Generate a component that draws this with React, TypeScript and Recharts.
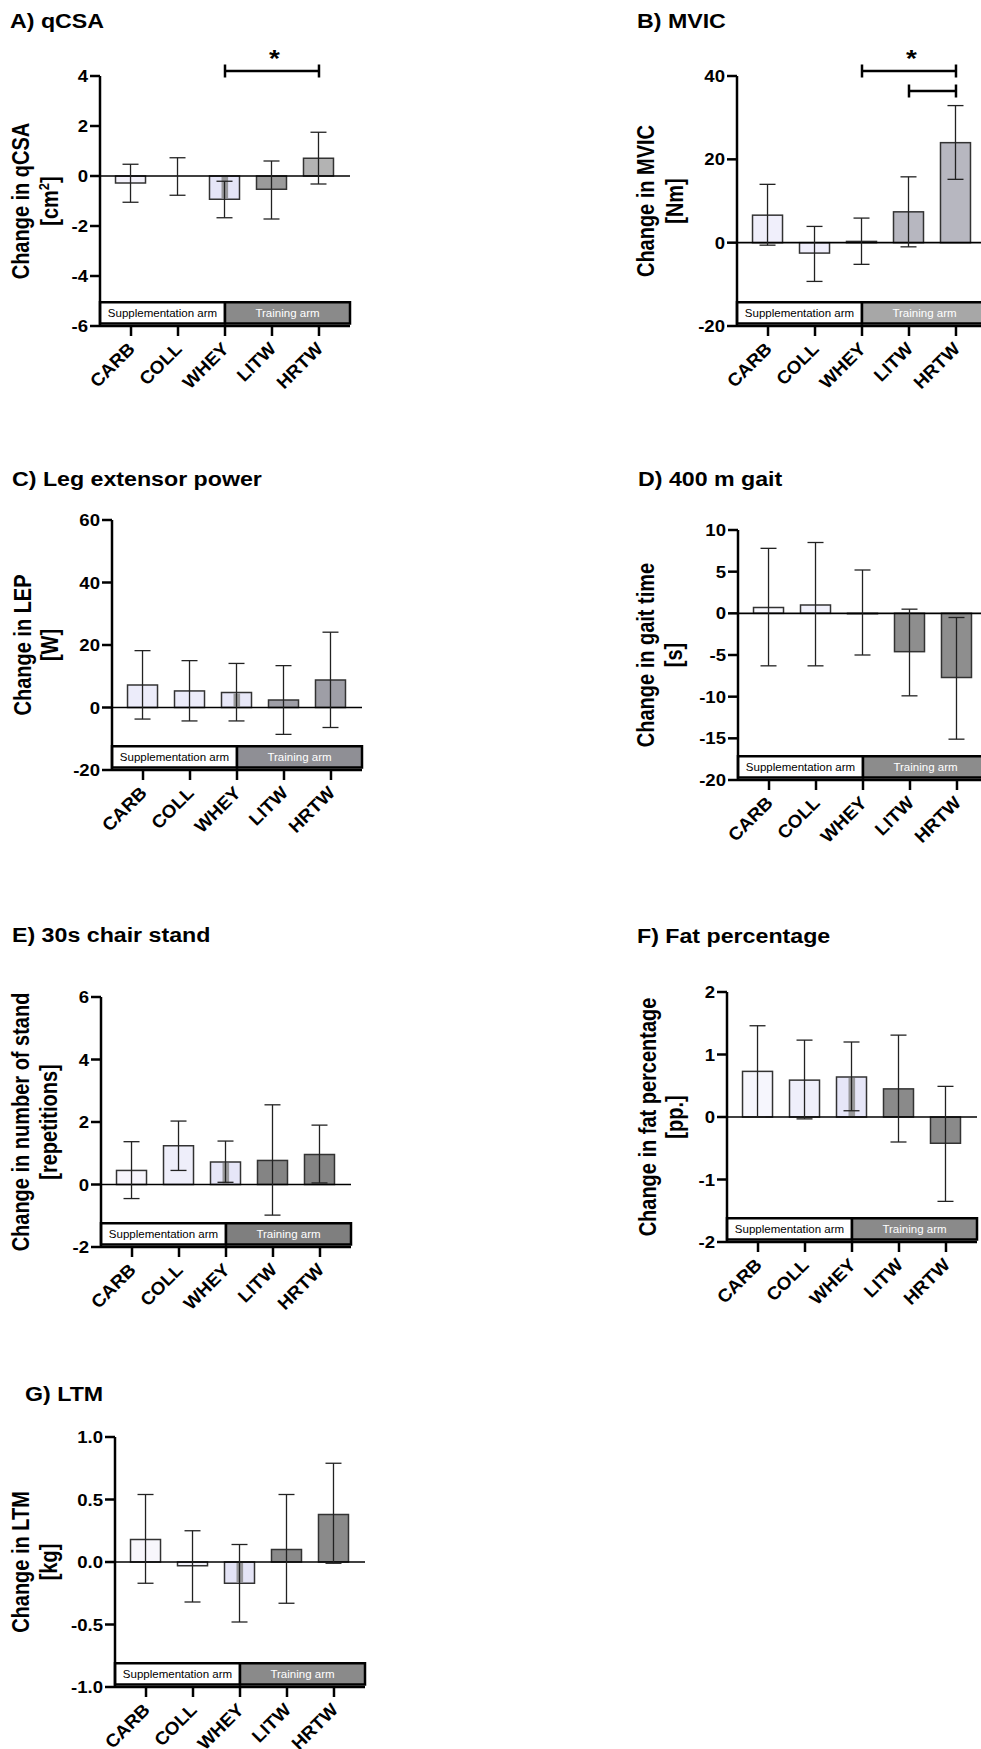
import React from 'react';
import { BarChart, Bar, XAxis, YAxis, ErrorBar, ReferenceLine, ReferenceArea, ReferenceDot } from 'recharts';

// ---------- data ----------
const categories = ['CARB', 'COLL', 'WHEY', 'LITW', 'HRTW'];

const qcsaMean = [-0.28, 0.0, -0.93, -0.53, 0.71];
const qcsaLower = [-1.05, -0.77, -1.67, -1.72, -0.32];
const qcsaUpper = [0.47, 0.73, -0.21, 0.6, 1.75];
const qcsaTicks = [-6, -4, -2, 0, 2, 4];

const mvicMean = [6.6, -2.5, 0.3, 7.4, 24.0];
const mvicLower = [-0.6, -9.3, -5.2, -1.0, 15.2];
const mvicUpper = [14.0, 3.9, 5.9, 15.8, 32.9];
const mvicTicks = [-20, 0, 20, 40];

const lepMean = [7.2, 5.3, 4.8, 2.4, 8.8];
const lepLower = [-3.7, -4.3, -4.3, -8.6, -6.4];
const lepUpper = [18.2, 15.0, 14.1, 13.4, 24.1];
const lepTicks = [-20, 0, 20, 40, 60];

const gaitMean = [0.7, 1.0, -0.05, -4.6, -7.7];
const gaitLower = [-6.3, -6.3, -5.0, -9.9, -15.1];
const gaitUpper = [7.8, 8.5, 5.2, 0.5, -0.5];
const gaitTicks = [-20, -15, -10, -5, 0, 5, 10];

const chairMean = [0.45, 1.24, 0.72, 0.77, 0.96];
const chairLower = [-0.45, 0.45, 0.07, -0.98, 0.05];
const chairUpper = [1.37, 2.03, 1.39, 2.55, 1.9];
const chairTicks = [-2, 0, 2, 4, 6];

const fatMean = [0.73, 0.59, 0.64, 0.45, -0.42];
const fatLower = [0.0, -0.03, 0.1, -0.4, -1.35];
const fatUpper = [1.46, 1.23, 1.2, 1.31, 0.49];
const fatTicks = [-2, -1, 0, 1, 2];

const ltmMean = [0.18, -0.03, -0.17, 0.1, 0.38];
const ltmLower = [-0.17, -0.32, -0.48, -0.33, -0.01];
const ltmUpper = [0.54, 0.25, 0.14, 0.54, 0.79];
const ltmTicks = [-1, -0.5, 0, 0.5, 1];

// significance brackets: category positions (1-based) and bracket level
const qcsaBrackets = [{ from: 3, to: 5, y: 4.2 }];
const qcsaStar = { x: 4.05, y: 4.84 };
const mvicBrackets = [
  { from: 3, to: 5, y: 41.2 },
  { from: 4, to: 5, y: 36.4 },
];
const mvicStar = { x: 4.05, y: 45.1 };

const armLabels = ['Supplementation arm', 'Training arm'];

// ---------- styles ----------
const FONT = '"Liberation Sans", Arial, Helvetica, sans-serif';
const SX = 1.16;
const X_DOMAIN: [number, number] = [0.34, 5.66];
const PLOT = 250;

type Cfg = {
  key: string;
  left: number;
  top: number;
  mean: number[];
  lower: number[];
  upper: number[];
  ticks: number[];
  dec: number;
  colors: string[];
  trainFill: string;
  stripe: boolean;
  brackets?: { from: number; to: number; y: number }[];
  star?: { x: number; y: number };
};

const panels: Cfg[] = [
  { key: 'A', left: 0, top: 16, mean: qcsaMean, lower: qcsaLower, upper: qcsaUpper, ticks: qcsaTicks, dec: 0,
    colors: ['#f3f1fa', '#f3f1fa', '#e5e5f7', '#9b9b9b', '#b3b3b3'], trainFill: '#8a8a8a', stripe: true,
    brackets: qcsaBrackets, star: qcsaStar },
  { key: 'B', left: 637, top: 16, mean: mvicMean, lower: mvicLower, upper: mvicUpper, ticks: mvicTicks, dec: 0,
    colors: ['#f0effb', '#efeefb', '#f0effb', '#b7b7c0', '#b7b7c0'], trainFill: '#a7a7a7', stripe: false,
    brackets: mvicBrackets, star: mvicStar },
  { key: 'C', left: 12, top: 460, mean: lepMean, lower: lepLower, upper: lepUpper, ticks: lepTicks, dec: 0,
    colors: ['#ececfa', '#ececfa', '#e8e8f8', '#9e9ea6', '#9e9ea6'], trainFill: '#8f8f95', stripe: true },
  { key: 'D', left: 638, top: 470, mean: gaitMean, lower: gaitLower, upper: gaitUpper, ticks: gaitTicks, dec: 0,
    colors: ['#fafaff', '#f1f1fb', '#f1f1fb', '#8e8e8e', '#8e8e8e'], trainFill: '#8c8c8c', stripe: false },
  { key: 'E', left: 1, top: 937, mean: chairMean, lower: chairLower, upper: chairUpper, ticks: chairTicks, dec: 0,
    colors: ['#f7f5fc', '#eeeefa', '#e6e6f8', '#848484', '#848484'], trainFill: '#7f7f7f', stripe: true },
  { key: 'F', left: 627, top: 932, mean: fatMean, lower: fatLower, upper: fatUpper, ticks: fatTicks, dec: 0,
    colors: ['#f6f6fd', '#efeffb', '#e6e6f8', '#8a8a8a', '#8a8a8a'], trainFill: '#8a8a8a', stripe: true },
  { key: 'G', left: 15, top: 1377, mean: ltmMean, lower: ltmLower, upper: ltmUpper, ticks: ltmTicks, dec: 1,
    colors: ['#f8f6fc', '#f1f1fa', '#e4e4f6', '#8a8a8a', '#8a8a8a'], trainFill: '#8a8a8a', stripe: true },
];

const titles = [
  { text: 'A) qCSA', x: 10, y: 27.5 },
  { text: 'B) MVIC', x: 637, y: 27.5 },
  { text: 'C) Leg extensor power', x: 12, y: 486 },
  { text: 'D) 400 m gait', x: 638, y: 486 },
  { text: 'E) 30s chair stand', x: 12, y: 942 },
  { text: 'F) Fat percentage', x: 637, y: 943 },
  { text: 'G) LTM', x: 25, y: 1401 },
];

const yLabels = [
  { l1: 'Change in qCSA', l2: '[cm', sup: '2', l2end: ']', x1: 29, x2: 58, cy: 201 },
  { l1: 'Change in MVIC', l2: '[Nm]', x1: 654, x2: 683, cy: 201 },
  { l1: 'Change in LEP', l2: '[W]', x1: 31, x2: 58, cy: 645 },
  { l1: 'Change in gait time', l2: '[s]', x1: 654, x2: 682, cy: 655 },
  { l1: 'Change in number of stand', l2: '[repetitions]', x1: 29, x2: 57, cy: 1122 },
  { l1: 'Change in fat percentage', l2: '[pp.]', x1: 656, x2: 683, cy: 1117 },
  { l1: 'Change in LTM', l2: '[kg]', x1: 29, x2: 57, cy: 1562 },
];

function buildTable(mean: number[], lower: number[], upper: number[]) {
  return categories.map((cat, i) => ({
    pos: i + 1,
    cat,
    mean: mean[i],
    err: [mean[i] - lower[i], upper[i] - mean[i]],
  }));
}

const XTick = (props: any) => {
  const { x, y, payload } = props;
  const label = categories[Math.round(payload.value) - 1];
  return (
    <text
      transform={`translate(${x + 5},${y + 14}) rotate(-45) scale(1.05,1)`}
      textAnchor="end"
      fontSize={18}
      fontWeight="bold"
      fontFamily={FONT}
      fill="#000"
    >
      {label}
    </text>
  );
};

const makeYTick = (dec: number) => (props: any) => {
  const { x, y, payload } = props;
  return (
    <text
      transform={`translate(${x},${y}) scale(${SX},1)`}
      textAnchor="end"
      dy={6}
      fontSize={16}
      fontWeight="bold"
      fontFamily={FONT}
      fill="#000"
    >
      {Number(payload.value).toFixed(dec)}
    </text>
  );
};

const makeShape = (colors: string[], stripe: boolean) => (props: any) => {
  const { x, y, width, height } = props;
  const i = props.payload && props.payload.pos ? props.payload.pos - 1 : props.index;
  const top = height < 0 ? y + height : y;
  const h = Math.abs(height || 0);
  if (!isFinite(x) || !isFinite(top)) return <g />;
  return (
    <g>
      <rect x={x} y={top} width={width} height={h} fill={colors[i]} stroke="#333" strokeWidth={1.5} />
      {stripe && i === 2 && h > 3 ? (
        <rect x={x + width * 0.4} y={top + 1} width={width * 0.22} height={h - 2} fill="#8a8a8a" fillOpacity={0.85} />
      ) : null}
    </g>
  );
};

const boxLabel = (text: string, color: string) => (p: any) => {
  const vb = p.viewBox || {};
  return (
    <text
      x={vb.x + vb.width / 2}
      y={vb.y + vb.height / 2}
      dy={4}
      textAnchor="middle"
      fontSize={11.5}
      fontFamily={FONT}
      fill={color}
    >
      {text}
    </text>
  );
};

const StarShape = (p: any) => (
  <text
    transform={`translate(${p.cx},${p.cy}) scale(${SX},1)`}
    dy={12}
    textAnchor="middle"
    fontSize={24}
    fontWeight="bold"
    fontFamily={FONT}
    fill="#000"
  >
    *
  </text>
);

function Panel({ cfg }: { cfg: Cfg }) {
  const data = buildTable(cfg.mean, cfg.lower, cfg.upper);
  const yMin = cfg.ticks[0];
  const yMax = cfg.ticks[cfg.ticks.length - 1];
  const range = yMax - yMin;
  const boxLo = yMin + 0.01 * range;
  const boxHi = yMin + 0.095 * range;
  const cap = (6.5 * range) / PLOT;
  const axisStyle = { stroke: '#000', strokeWidth: 2.5 };
  return (
    <div style={{ position: 'absolute', left: cfg.left, top: cfg.top }}>
      <BarChart width={390} height={410} data={data} margin={{ top: 60, right: 40, bottom: 0, left: 0 }}>
        <XAxis
          type="number"
          dataKey="pos"
          domain={X_DOMAIN}
          ticks={[1, 2, 3, 4, 5]}
          interval={0}
          allowDataOverflow
          height={100}
          tickSize={10}
          tickMargin={0}
          axisLine={axisStyle}
          tickLine={axisStyle}
          tick={(p: any) => <XTick {...p} />}
        />
        <YAxis
          type="number"
          domain={[yMin, yMax]}
          ticks={cfg.ticks}
          interval={0}
          allowDataOverflow
          width={100}
          tickSize={10}
          tickMargin={2}
          axisLine={axisStyle}
          tickLine={axisStyle}
          tick={makeYTick(cfg.dec)}
        />
        <ReferenceLine y={0} stroke="#000" strokeWidth={1.6} />
        <Bar dataKey="mean" barSize={30} isAnimationActive={false} shape={makeShape(cfg.colors, cfg.stripe)}>
          <ErrorBar dataKey="err" direction="y" width={8} stroke="#222" strokeWidth={1.3} isAnimationActive={false} />
        </Bar>
        <ReferenceArea
          x1={X_DOMAIN[0]}
          x2={3}
          y1={boxLo}
          y2={boxHi}
          fill="#ffffff"
          fillOpacity={1}
          stroke="#000"
          strokeWidth={2.5}
          label={{ content: boxLabel(armLabels[0], '#000') }}
        />
        <ReferenceArea
          x1={3}
          x2={X_DOMAIN[1]}
          y1={boxLo}
          y2={boxHi}
          fill={cfg.trainFill}
          fillOpacity={1}
          stroke="#000"
          strokeWidth={2.5}
          label={{ content: boxLabel(armLabels[1], '#ffffff') }}
        />
        {(cfg.brackets || []).map((b, i) => (
          <ReferenceLine
            key={'h' + i}
            segment={[{ x: b.from, y: b.y }, { x: b.to, y: b.y }]}
            stroke="#000"
            strokeWidth={2.5}
            ifOverflow="visible"
          />
        ))}
        {(cfg.brackets || []).map((b, i) => (
          <ReferenceLine
            key={'l' + i}
            segment={[{ x: b.from, y: b.y - cap }, { x: b.from, y: b.y + cap }]}
            stroke="#000"
            strokeWidth={2.5}
            ifOverflow="visible"
          />
        ))}
        {(cfg.brackets || []).map((b, i) => (
          <ReferenceLine
            key={'r' + i}
            segment={[{ x: b.to, y: b.y - cap }, { x: b.to, y: b.y + cap }]}
            stroke="#000"
            strokeWidth={2.5}
            ifOverflow="visible"
          />
        ))}
        {cfg.star ? (
          <ReferenceDot x={cfg.star.x} y={cfg.star.y} r={0} ifOverflow="visible" shape={StarShape} />
        ) : null}
      </BarChart>
    </div>
  );
}

export default function App() {
  return (
    <div
      style={{
        position: 'absolute',
        left: 0,
        top: 0,
        width: 981,
        height: 1749,
        overflow: 'hidden',
        background: '#fff',
      }}
    >
      {panels.map((cfg) => (
        <Panel key={cfg.key} cfg={cfg} />
      ))}
      <svg
        width={981}
        height={1749}
        style={{ position: 'absolute', left: 0, top: 0, pointerEvents: 'none' }}
      >
        {titles.map((t) => (
          <text
            key={t.text}
            transform={`translate(${t.x},${t.y}) scale(${SX},1)`}
            fontSize={20}
            fontWeight="bold"
            fontFamily={FONT}
            fill="#000"
          >
            {t.text}
          </text>
        ))}
        {yLabels.map((l) => (
          <g key={l.l1} fontSize={20} fontWeight="bold" fontFamily={FONT} fill="#000">
            <text transform={`translate(${l.x1},${l.cy}) scale(${SX},1) rotate(-90)`} textAnchor="middle">
              {l.l1}
            </text>
            <text transform={`translate(${l.x2},${l.cy}) scale(${SX},1) rotate(-90)`} textAnchor="middle">
              {l.l2}
              {l.sup ? (
                <tspan fontSize={13} dy={-8}>
                  {l.sup}
                </tspan>
              ) : null}
              {l.l2end ? <tspan dy={l.sup ? 8 : 0}>{l.l2end}</tspan> : null}
            </text>
          </g>
        ))}
      </svg>
    </div>
  );
}
